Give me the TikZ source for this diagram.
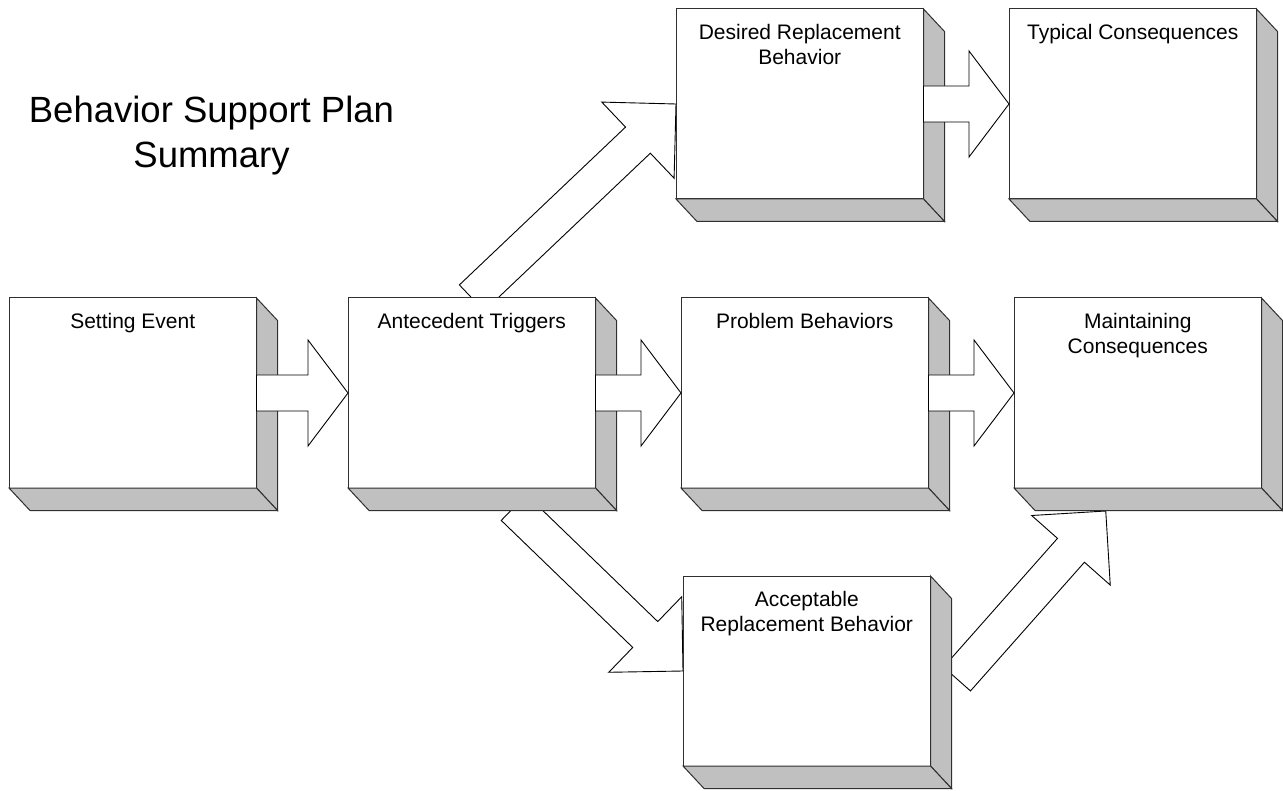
\documentclass[tikz,border=0pt]{standalone}
\usepackage{fontspec}
\setmainfont{Liberation Sans}
\usetikzlibrary{calc}

\definecolor{sidegray}{RGB}{192,192,192}
\definecolor{edgegray}{RGB}{48,48,48}

\pgfdeclarelayer{back}
\pgfsetlayers{back,main}

\tikzset{
  frontface/.style={draw=edgegray, fill=white, line width=1pt,
    minimum width=247.5pt, minimum height=190pt, inner sep=0pt,
    outer sep=0pt, anchor=north west},
  depthface/.style={draw=edgegray, fill=sidegray, line width=1pt, line join=miter},
  boxlabel/.style={font=\fontsize{21}{25}\selectfont, align=center,
    anchor=north, inner sep=0pt},
  titlelabel/.style={font=\fontsize{36.5}{45}\selectfont, align=center,
    anchor=north, inner sep=0pt},
  arrowbody/.style={draw=black, fill=white, line width=0.9pt, line join=miter},
}

% A 3-D box: white front face named #1 with its top-left corner at #2,
% grey right and bottom faces, and the label #3 near the top.
\newcommand\solidbox[3]{%
  \node[frontface] (#1) at (#2) {};
  \filldraw[depthface] (#1.north east) -- ++(21,22.5) -- ++(0,190)
    -- (#1.south east) -- cycle;
  \filldraw[depthface] (#1.south west) -- (#1.south east) -- ++(21,22.5)
    -- ++(-247.5,0) -- cycle;
  \node[boxlabel] (#1-label) at ($(#1.north)+(0,15.3)$) {#3};
}

% A wide outlined block arrow from coordinate #1 (tail) to #2 (tip);
% #3 head length, #4 head half-width, #5 shaft half-width.
\newcommand\blockarrow[5]{%
  \path let \p1 = ($(#2)-(#1)$) in
    \pgfextra{%
      \pgfmathsetmacro\arrang{atan2(\y1,\x1)}%
      \pgfmathsetmacro\arrlen{veclen(\x1,\y1)}%
      \global\let\arrang\arrang
      \global\let\arrlen\arrlen};
  \begin{scope}[shift={(#2)}, rotate=\arrang]
    \filldraw[arrowbody] (0,0) -- (-#3,#4) -- (-#3,#5) -- (-\arrlen,#5)
      -- (-\arrlen,-#5) -- (-#3,-#5) -- (-#3,-#4) -- cycle;
  \end{scope}}

\begin{document}
\begin{tikzpicture}[x=1pt, y=-1pt]
  \useasboundingbox (0,0) rectangle (1283,791);

  \node[titlelabel] (title) at (211.5,95.5) {Behavior Support Plan\\Summary};

  % boxes
  \solidbox{setting}{9,298}{Setting Event}
  \solidbox{antecedent}{348,298}{Antecedent Triggers}
  \solidbox{problem}{681,298}{Problem Behaviors}
  \solidbox{maintaining}{1014,298}{Maintaining\\Consequences}
  \solidbox{desired}{676,9}{Desired Replacement\\Behavior}
  \solidbox{typical}{1009,9}{Typical Consequences}
  \solidbox{acceptable}{683,576}{Acceptable\\Replacement Behavior}

  % free ends of the slanted arrows
  \coordinate (tailB) at ($(antecedent.south)+(42,19.5)$);
  \coordinate (tailC) at ($(acceptable.east)+(26.5,8)$);
  \coordinate (tipC) at ($(maintaining.south)+(-32,23)$);

  % slanted arrows run behind the boxes
  \begin{pgfonlayer}{back}
    \blockarrow{antecedent.north}{desired.west}{52.5}{52.5}{18}
    \blockarrow{tailB}{acceptable.west}{52.5}{52.5}{18}
    \blockarrow{tailC}{tipC}{52.5}{52.5}{18}
  \end{pgfonlayer}

  % straight arrows between neighbouring boxes
  \blockarrow{setting.east}{antecedent.west}{40}{53}{18}
  \blockarrow{antecedent.east}{problem.west}{40}{53}{18}
  \blockarrow{problem.east}{maintaining.west}{40}{53}{18}
  \blockarrow{desired.east}{typical.west}{40}{53}{18}
\end{tikzpicture}
\end{document}
